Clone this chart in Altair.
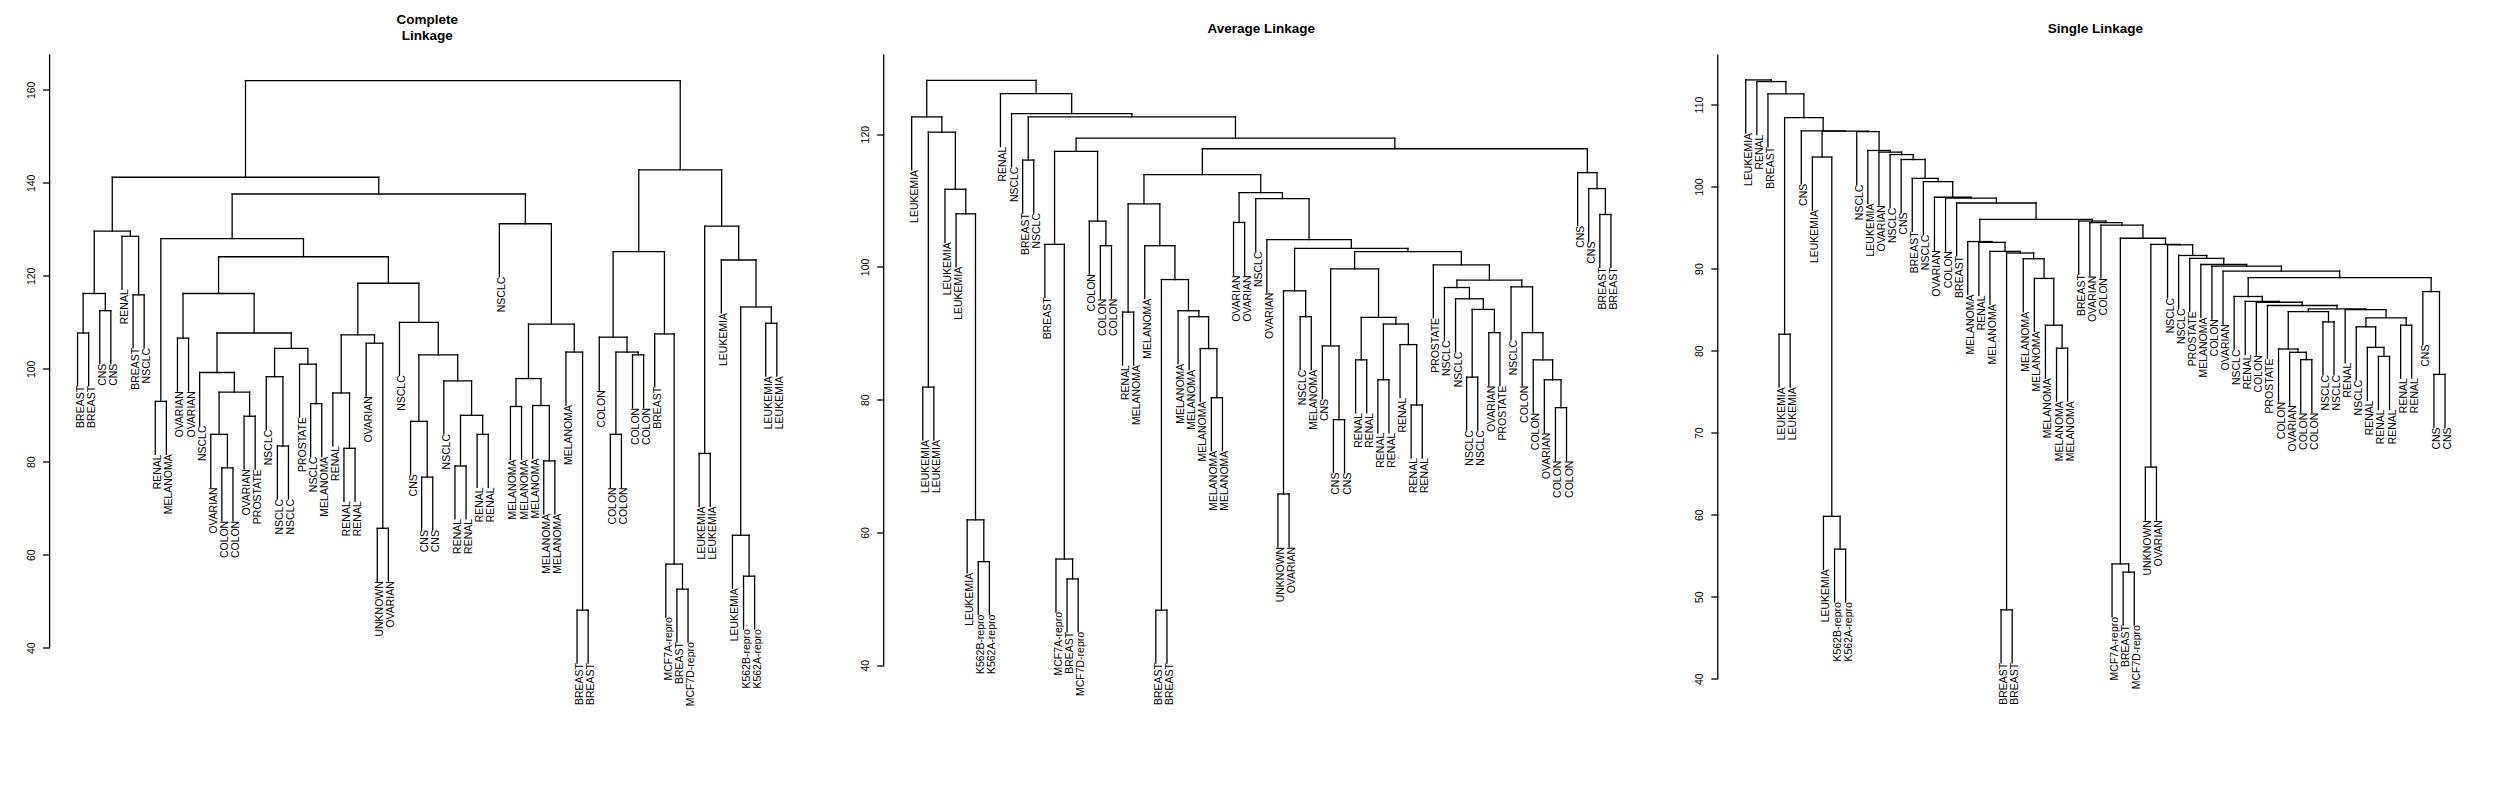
import altair as alt
import pandas as pd

# ---------------- data: dendrograms as [merge height, left, right]; leaves are labels ----------------
# Complete linkage
c_left = [129.6, [116.2, [107.7, "BREAST", "BREAST"], [112.5, "CNS", "CNS"]],
          [128.5, "RENAL", [115.9, "BREAST", "NSCLC"]]]
c_ovcol = [99.2, "NSCLC", [95.0, [85.9, "OVARIAN", [78.7, "COLON", "COLON"]], [89.8, "OVARIAN", "PROSTATE"]]]
c_nsclc = [104.4, [98.3, "NSCLC", [83.4, "NSCLC", "NSCLC"]], [101.0, "PROSTATE", [92.5, "NSCLC", "MELANOMA"]]]
c_mid_a = [116.2, [106.6, "OVARIAN", "OVARIAN"], [107.7, c_ovcol, c_nsclc]]
c_renal = [90.0, [79.1, "RENAL", "RENAL"], [85.9, "RENAL", "RENAL"]]
c_mid_b = [118.4, [107.3, [94.8, "RENAL", [82.9, "RENAL", "RENAL"]], [105.5, "OVARIAN", [65.7, "UNKNOWN", "OVARIAN"]]],
           [110.0, "NSCLC", [103.0, [88.7, "CNS", [76.7, "CNS", "CNS"]], [97.4, "NSCLC", c_renal]]]]
c_mel = [131.2, "NSCLC", [109.6, [97.9, [91.9, "MELANOMA", "MELANOMA"], [92.1, "MELANOMA", [80.2, "MELANOMA", "MELANOMA"]]],
                          [103.6, "MELANOMA", [48.1, "BREAST", "BREAST"]]]]
c_center = [137.6, [128.0, [93.0, "RENAL", "MELANOMA"], [124.1, c_mid_a, c_mid_b]], c_mel]
c_colon = [125.2, [106.8, "COLON", [103.6, [85.9, "COLON", "COLON"], [103.0, "COLON", "COLON"]]],
           [107.5, "BREAST", [58.0, "MCF7A-repro", [52.6, "BREAST", "MCF7D-repro"]]]]
c_leuk = [130.7, [81.8, "LEUKEMIA", "LEUKEMIA"],
          [123.4, "LEUKEMIA", [113.3, [64.2, "LEUKEMIA", [55.4, "K562B-repro", "K562A-repro"]], [109.8, "LEUKEMIA", "LEUKEMIA"]]]]
complete_tree = [162.0, [141.2, c_left, c_center], [142.8, c_colon, c_leuk]]

# Average linkage
a_leuk = [122.6, "LEUKEMIA", [120.3, [81.9, "LEUKEMIA", "LEUKEMIA"],
          [111.7, "LEUKEMIA", [108.0, "LEUKEMIA", [61.9, "LEUKEMIA", [55.6, "K562B-repro", "K562A-repro"]]]]]]
a_breast_colon = [117.4, [103.4, "BREAST", [56.0, "MCF7A-repro", [53.0, "BREAST", "MCF7D-repro"]]],
                  [106.9, "COLON", [103.2, "COLON", "COLON"]]]
a_mel = [109.5, [93.2, "RENAL", "MELANOMA"],
         [103.2, "MELANOMA", [98.1, [48.3, "BREAST", "BREAST"],
                              [93.4, "MELANOMA", [92.5, "MELANOMA", [87.7, "MELANOMA", [80.3, "MELANOMA", "MELANOMA"]]]]]]]
a_cns_renal = [99.7, [88.1, "CNS", [77.0, "CNS", "CNS"]],
               [92.4, [86.0, "RENAL", "RENAL"], [91.4, [83.0, "RENAL", "RENAL"], [88.3, "RENAL", [79.2, "RENAL", "RENAL"]]]]]
a_pros = [100.3, "PROSTATE", [98.0,
          [96.9, "NSCLC", [95.2, "NSCLC", [93.6, [83.4, "NSCLC", "NSCLC"], [90.1, "OVARIAN", "PROSTATE"]]]],
          [97.0, "NSCLC", [90.1, "COLON", [86.0, "COLON", [83.0, "OVARIAN", [78.8, "COLON", "COLON"]]]]]]]
a_ov = [111.2, [106.7, "OVARIAN", "OVARIAN"],
        [110.3, "NSCLC", [104.1, "OVARIAN", [102.8, [96.4, [65.8, "UNKNOWN", "OVARIAN"], [92.5, "NSCLC", "MELANOMA"]],
                                            [102.3, a_cns_renal, a_pros]]]]]
a_cns = [114.2, "CNS", [111.8, "CNS", [107.9, "BREAST", "BREAST"]]]
a_right = [126.1, "RENAL", [123.1, "NSCLC", [122.6, [116.1, "BREAST", "NSCLC"],
                                             [119.4, a_breast_colon, [117.8, [113.9, a_mel, a_ov], a_cns]]]]]
average_tree = [128.1, a_leuk, a_right]

# Single linkage
s_M = [93.3, "MELANOMA", [93.2, "RENAL", [92.1, "MELANOMA", [91.9, [48.4, "BREAST", "BREAST"],
       [91.2, "MELANOMA", [88.8, "MELANOMA", [83.1, "MELANOMA", [80.3, "MELANOMA", "MELANOMA"]]]]]]]]
s_X8 = [80.2, "COLON", [79.8, "OVARIAN", [78.9, "COLON", "COLON"]]]
s_X6 = [84.75, s_X8, [83.5, "NSCLC", "NSCLC"]]
s_X7 = [85.0, "RENAL", [84.0, [82.9, "NSCLC", [80.4, "RENAL", [79.3, "RENAL", "RENAL"]]], [83.1, "RENAL", "RENAL"]]]
s_X = [86.6, "NSCLC", [86.0, "RENAL", [85.9, "COLON", [85.5, "PROSTATE", [85.1, s_X6, s_X7]]]]]
s_W = [88.9, s_X, [87.2, "CNS", [77.1, "CNS", "CNS"]]]
s_N5 = [92.95, [65.8, "UNKNOWN", "OVARIAN"], [92.9, "NSCLC", [91.6, "NSCLC", [91.25, "PROSTATE",
        [90.5, "MELANOMA", [90.3, "COLON", [89.7, "OVARIAN", s_W]]]]]]]
s_N = [95.8, "BREAST", [95.6, "OVARIAN", [95.3, "COLON",
       [93.7, [54.0, "MCF7A-repro", [53.0, "BREAST", "MCF7D-repro"]], s_N5]]]]
s_chain = [106.7, "NSCLC", [104.4, "LEUKEMIA", [104.2, "OVARIAN", [103.9, "NSCLC", [103.3, "CNS",
           [101.0, "BREAST", [100.6, "NSCLC", [98.7, "OVARIAN", [98.6, "COLON", [98.0, "BREAST",
           [96.0, s_M, s_N]]]]]]]]]]]
s_A = [106.8, "CNS", [106.75, [103.6, "LEUKEMIA", [59.8, "LEUKEMIA", [55.8, "K562B-repro", "K562A-repro"]]], s_chain]]
single_tree = [113.0, "LEUKEMIA", [112.8, "RENAL", [111.3, "BREAST", [108.4, [82.0, "LEUKEMIA", "LEUKEMIA"], s_A]]]]

complete_ticks = [40, 60, 80, 100, 120, 140, 160]
average_ticks = [40, 60, 80, 100, 120]
single_ticks = [40, 50, 60, 70, 80, 90, 100, 110]

# ---------------- style / layout ----------------
PLOT_W = 755.2
PLOT_H = 703
XDOM = [1 - 0.04 * 63, 64 + 0.04 * 63]
LABEL_FONT = "Liberation Sans"
LABEL_SIZE = 10.5
LW = 1.3


def build(tree):
    heights = []

    def collect(n):
        if isinstance(n, str):
            return
        heights.append(n[0])
        collect(n[1])
        collect(n[2])

    collect(tree)
    hang = 0.1 * (max(heights) - min(heights))
    segs, leaves = [], []
    count = [0]

    def walk(n):
        if isinstance(n, str):
            count[0] += 1
            return count[0], None, n
        h, a, b = n
        ca = walk(a)
        cb = walk(b)
        for xc, hc, lc in (ca, cb):
            if hc is None:
                bottom = h - hang
                leaves.append({"x": xc, "y": bottom, "label": lc})
            else:
                bottom = hc
            segs.append({"x": xc, "x2": xc, "y": h, "y2": bottom})
        segs.append({"x": ca[0], "x2": cb[0], "y": h, "y2": h})
        return (ca[0] + cb[0]) / 2, h, None

    walk(tree)
    return pd.DataFrame(segs), pd.DataFrame(leaves)


def panel(tree, ticks, ydom, title):
    segs, leaves = build(tree)
    xs = alt.Scale(domain=XDOM, nice=False, zero=False)
    ys = alt.Scale(domain=ydom, nice=False, zero=False)
    yaxis = alt.Axis(values=ticks, title=None, grid=False, domain=False, tickSize=7, tickWidth=LW,
                     tickColor="black", labelAngle=270, labelAlign="center", labelBaseline="bottom",
                     labelPadding=6, labelFont=LABEL_FONT, labelFontSize=LABEL_SIZE, labelColor="black",
                     labelOverlap=False)
    lines = alt.Chart(segs).mark_rule(color="black", strokeWidth=LW, strokeCap="square").encode(
        x=alt.X("x:Q", scale=xs, axis=None), x2="x2:Q",
        y=alt.Y("y:Q", scale=ys, axis=yaxis), y2="y2:Q")
    labels = alt.Chart(leaves).mark_text(angle=270, align="right", baseline="middle", dy=3,
                                         font=LABEL_FONT, fontSize=LABEL_SIZE, color="black").encode(
        x=alt.X("x:Q", scale=xs), y=alt.Y("y:Q", scale=ys), text="label:N")
    axis_line = alt.Chart(pd.DataFrame({"y": [ticks[0]]})).mark_rule(color="black", strokeWidth=LW).encode(
        x=alt.value(0), y=alt.Y("y:Q", scale=ys), y2=alt.value(0))
    return alt.layer(lines, labels, axis_line).properties(width=PLOT_W, height=PLOT_H, title=title)


def ttl(text, offset):
    return alt.TitleParams(text=text, font="Liberation Sans", fontSize=13.5, fontWeight="bold", color="black",
                           anchor="middle", frame="group", baseline="bottom", lineHeight=16, offset=offset)


p1 = panel(complete_tree, complete_ticks, [16.4, 167.6], ttl(["Complete", "\u00a0" * 7 + "Linkage"], -3))
p2 = panel(average_tree, average_ticks, [26.1, 132.0], ttl("Average Linkage", 4))
p3 = panel(single_tree, single_ticks, [30.4, 116.1], ttl("Single Linkage", 4))

chart = alt.hconcat(p1, p2, p3, spacing=78.1, bounds="flush").properties(
    padding={"left": 18.6, "top": 4.5, "right": 5, "bottom": 5},
    background="white",
).configure_view(stroke=None)

chart.save("out.html", embed_options={"renderer": "svg", "actions": False})
